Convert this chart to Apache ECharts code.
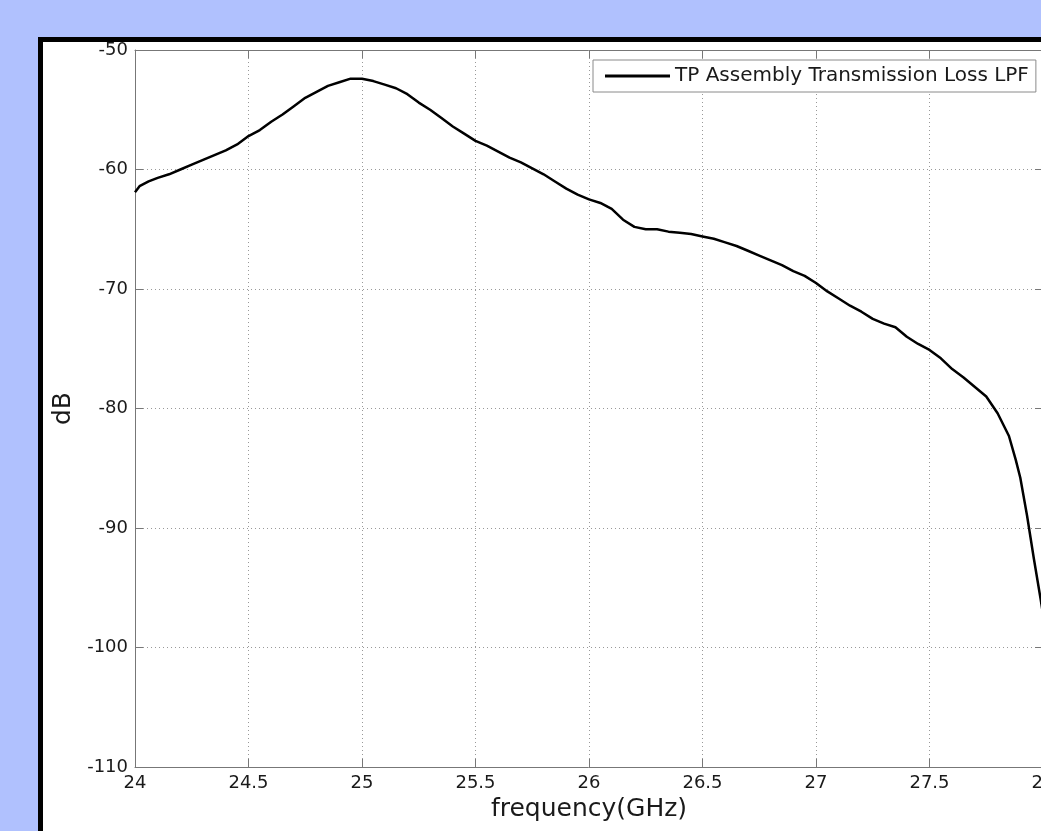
<!DOCTYPE html>
<html>
<head>
<meta charset="utf-8">
<script src="https://cdn.jsdelivr.net/npm/echarts@6/dist/echarts.min.js"></script>
<style>
  html, body { margin: 0; padding: 0; background: #b0c1fe; }
  #chart { width: 1041px; height: 831px; }
</style>
</head>
<body>
<div id="chart"></div>
<script>
// frequency in GHz
var freq = [24.00, 24.02, 24.06, 24.10, 24.15, 24.20, 24.25, 24.30, 24.35, 24.40,
    24.45, 24.50, 24.55, 24.60, 24.65, 24.70, 24.75, 24.80, 24.85, 24.90,
    24.95, 25.00, 25.05, 25.10, 25.15, 25.20, 25.25, 25.30, 25.35, 25.40,
    25.45, 25.50, 25.55, 25.60, 25.65, 25.70, 25.75, 25.80, 25.85, 25.90,
    25.95, 26.00, 26.05, 26.10, 26.15, 26.20, 26.25, 26.30, 26.35, 26.40,
    26.45, 26.50, 26.55, 26.60, 26.65, 26.70, 26.75, 26.80, 26.85, 26.90,
    26.95, 27.00, 27.05, 27.10, 27.15, 27.20, 27.25, 27.30, 27.35, 27.40,
    27.45, 27.50, 27.55, 27.60, 27.65, 27.70, 27.75, 27.80, 27.85, 27.88,
    27.90, 27.93, 27.96, 27.99, 28.00];
// transmission loss in dB
var lossDb = [-61.9, -61.4, -61.0, -60.7, -60.4, -60.0, -59.6, -59.2, -58.8, -58.4,
    -57.9, -57.2, -56.7, -56.0, -55.4, -54.7, -54.0, -53.5, -53.0, -52.7,
    -52.4, -52.4, -52.6, -52.9, -53.2, -53.7, -54.4, -55.0, -55.7, -56.4,
    -57.0, -57.6, -58.0, -58.5, -59.0, -59.4, -59.9, -60.4, -61.0, -61.6,
    -62.1, -62.5, -62.8, -63.3, -64.2, -64.8, -65.0, -65.0, -65.2, -65.3,
    -65.4, -65.6, -65.8, -66.1, -66.4, -66.8, -67.2, -67.6, -68.0, -68.5,
    -68.9, -69.5, -70.2, -70.8, -71.4, -71.9, -72.5, -72.9, -73.2, -74.0,
    -74.6, -75.1, -75.8, -76.7, -77.4, -78.2, -79.0, -80.4, -82.3, -84.3,
    -85.8, -89.0, -92.6, -96.0, -97.2];

var seriesName = 'TP Assembly Transmission Loss LPF';
var font = 'DejaVu Sans, sans-serif';

var points = freq.map(function (f, i) { return [f, lossDb[i]]; });

var chart = echarts.init(document.getElementById('chart'));
chart.setOption({
    backgroundColor: '#b0c1fe',
    animation: false,
    graphic: [
        {
            type: 'rect',
            z: -10,
            shape: {x: 40.5, y: 39.5, width: 1100, height: 900},
            style: {fill: '#ffffff', stroke: '#000000', lineWidth: 5}
        }
    ],
    grid: {
        left: 135,
        top: 50,
        right: -2,
        bottom: 64,
        containLabel: false,
        outerBoundsMode: 'none'
    },
    legend: {
        left: 593,
        top: 60,
        padding: [6, 7, 6, 12],
        backgroundColor: '#ffffff',
        borderColor: '#8a8a8a',
        borderWidth: 1,
        borderRadius: 0,
        icon: 'rect',
        itemWidth: 65,
        itemHeight: 3,
        textStyle: {fontFamily: font, fontSize: 20, color: '#1a1a1a'},
        data: [seriesName]
    },
    xAxis: [
        {
            type: 'value',
            min: 24,
            max: 28,
            interval: 0.5,
            name: 'frequency(GHz)',
            nameLocation: 'middle',
            nameGap: 29,
            nameTextStyle: {fontFamily: font, fontSize: 25, color: '#1a1a1a'},
            axisLine: {show: true, onZero: false, lineStyle: {color: '#777', width: 1}},
            axisTick: {show: true, inside: true, length: 8, lineStyle: {color: '#777'}},
            axisLabel: {fontFamily: font, fontSize: 18, color: '#1a1a1a', margin: 7},
            splitLine: {show: true, lineStyle: {color: '#999', type: [1, 3], width: 1}}
        },
        {
            type: 'value',
            position: 'top',
            min: 24,
            max: 28,
            interval: 0.5,
            axisLine: {show: true, lineStyle: {color: '#777', width: 1}},
            axisTick: {show: true, inside: true, length: 8, lineStyle: {color: '#777'}},
            axisLabel: {show: false},
            splitLine: {show: false}
        }
    ],
    yAxis: [
        {
            type: 'value',
            min: -110,
            max: -50,
            interval: 10,
            name: 'dB',
            nameLocation: 'middle',
            nameGap: 58,
            nameTextStyle: {fontFamily: font, fontSize: 25, color: '#1a1a1a'},
            axisLine: {show: true, onZero: false, lineStyle: {color: '#777', width: 1}},
            axisTick: {show: true, inside: true, length: 8, lineStyle: {color: '#777'}},
            axisLabel: {fontFamily: font, fontSize: 18, color: '#1a1a1a', margin: 7},
            splitLine: {show: true, lineStyle: {color: '#999', type: [1, 3], width: 1}}
        },
        {
            type: 'value',
            position: 'right',
            min: -110,
            max: -50,
            interval: 10,
            axisLine: {show: true, lineStyle: {color: '#777', width: 1}},
            axisTick: {show: true, inside: true, length: 8, lineStyle: {color: '#777'}},
            axisLabel: {show: false},
            splitLine: {show: false}
        }
    ],
    series: [
        {
            name: seriesName,
            type: 'line',
            xAxisIndex: 0,
            yAxisIndex: 0,
            symbol: 'none',
            smooth: false,
            itemStyle: {color: '#000000'},
            lineStyle: {color: '#000000', width: 2.5},
            data: points
        }
    ]
});
</script>
</body>
</html>
